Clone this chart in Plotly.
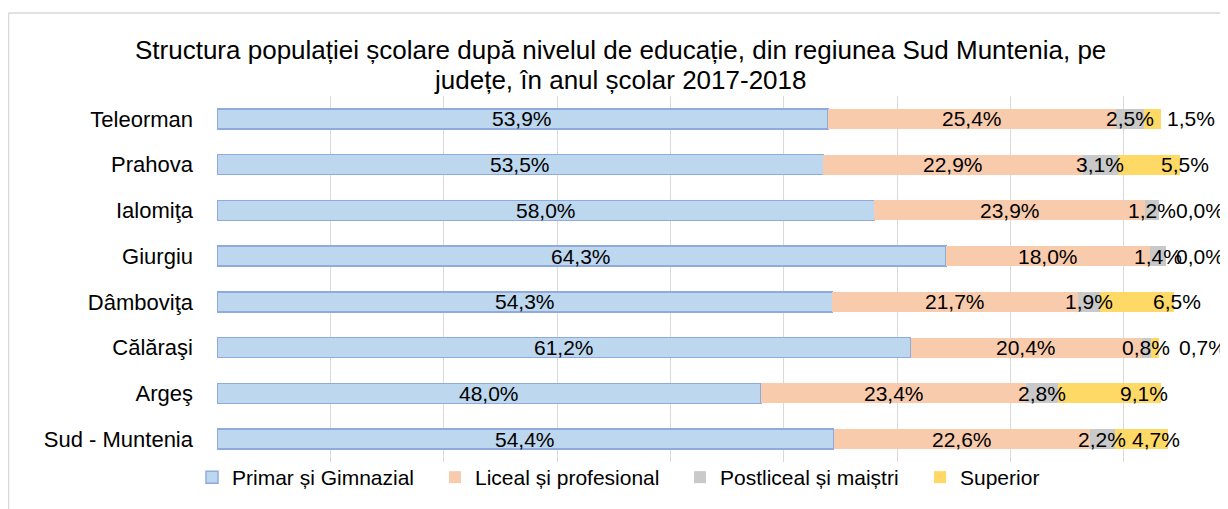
import plotly.graph_objects as go

# ---------------- data ----------------
judete = ["Teleorman", "Prahova", "Ialomiţa", "Giurgiu", "Dâmboviţa",
          "Călăraşi", "Argeş", "Sud - Muntenia"]
primar = [53.9, 53.5, 58.0, 64.3, 54.3, 61.2, 48.0, 54.4]
liceal = [25.4, 22.9, 23.9, 18.0, 21.7, 20.4, 23.4, 22.6]
postliceal = [2.5, 3.1, 1.2, 1.4, 1.9, 0.8, 2.8, 2.2]
superior = [1.5, 5.5, 0.0, 0.0, 6.5, 0.7, 9.1, 4.7]
serii = ["Primar și Gimnazial", "Liceal și profesional",
         "Postliceal și maiștri", "Superior"]
titlu_1 = "Structura populației școlare după nivelul de educație, din regiunea Sud Muntenia, pe"
titlu_2 = "județe, în anul școlar 2017-2018"

# ---------------- style ----------------
FONT = "Liberation Sans, Arial, sans-serif"
W, H = 1220, 501          # page adds 8px body margin
ML, MR, MT, MB = 209, 0, 88, 47
XMAX = 89.2
fills = ["#BDD7EE", "#F8CBAD", "#C9C9C9", "#FFD966"]
# manual label offsets (px) for the last series, as in the original
sup_shift = [38, 36, 41, 34, 40, 48, 34, 15]
legend_x_px = [184, 427, 672, 912]
legend_names = ["legend", "legend2", "legend3", "legend4"]

series = [primar, liceal, postliceal, superior]

pw = W - ML - MR
ph = H - MT - MB
def px_x(p):
    return (p - ML) / pw
def px_y(p):
    return 1 - (p - MT) / ph

fig = go.Figure()
for i, (name, vals) in enumerate(zip(serii, series)):
    fig.add_trace(go.Bar(
        y=judete, x=vals, name=name, orientation="h",
        legend=legend_names[i], showlegend=True,
        marker=dict(color=fills[i],
                    line=dict(color="#8FAADC" if i == 0 else fills[i],
                              width=1.5 if i == 0 else 0)),
        hoverinfo="skip",
    ))

def fmt(v):
    return f"{v:.1f}".replace(".", ",") + "%"

ann = []
for j, cat in enumerate(judete):
    base = 0.0
    for i, vals in enumerate(series):
        v = vals[j]
        ann.append(dict(
            x=base + v / 2, y=cat, xref="x", yref="y",
            text=fmt(v), showarrow=False,
            xshift=sup_shift[j] if i == 3 else 0,
            font=dict(family=FONT, size=21, color="#000000"),
        ))
        base += v

for txt, yc in [(titlu_1, 42), (titlu_2, 72)]:
    ann.append(dict(
        x=px_x(612), y=px_y(yc), xref="paper", yref="paper",
        xanchor="center", yanchor="middle", text=txt, showarrow=False,
        font=dict(family=FONT, size=26, color="#000000"),
    ))

shapes = [
    dict(type="line", xref="paper", yref="paper",
         x0=px_x(0.5), x1=px_x(1240), y0=px_y(5), y1=px_y(5),
         line=dict(color="#D9D9D9", width=1.5)),
    dict(type="line", xref="paper", yref="paper",
         x0=px_x(0.5), x1=px_x(0.5), y0=px_y(5), y1=px_y(520),
         line=dict(color="#D9D9D9", width=1.5)),
]

legends = {}
for k, ln in enumerate(legend_names):
    legends[ln] = dict(orientation="h", x=px_x(legend_x_px[k]), xanchor="left",
                       y=px_y(449), yanchor="top", bgcolor="rgba(0,0,0,0)",
                       visible=True,
                       font=dict(family=FONT, size=21, color="#000000"))

fig.update_layout(
    width=W, height=H,
    showlegend=True,
    barmode="stack", bargap=0.56,
    margin=dict(l=ML, r=MR, t=MT, b=MB, pad=0),
    paper_bgcolor="white", plot_bgcolor="white",
    font=dict(family=FONT, color="#000000"),
    xaxis=dict(range=[0, XMAX], dtick=10, showgrid=True, gridcolor="#D9D9D9",
               gridwidth=1, zeroline=False, showticklabels=False, showline=False,
               fixedrange=True),
    yaxis=dict(autorange="reversed", showgrid=False, showline=False,
               ticks="", ticklabelstandoff=23,
               tickfont=dict(family=FONT, size=22, color="#000000")),
    annotations=ann,
    shapes=shapes,
    **legends,
)

fig.write_html("out.html")
